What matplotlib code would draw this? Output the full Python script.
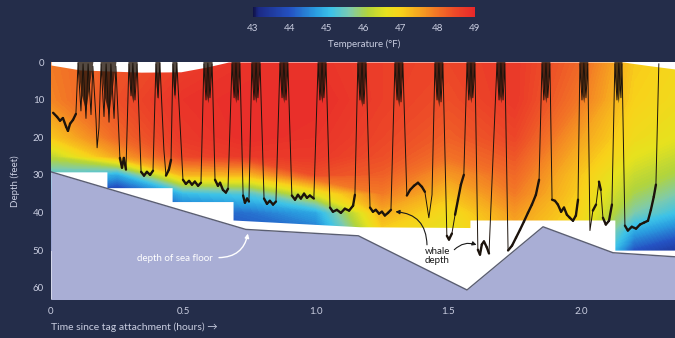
import numpy as np
import matplotlib
matplotlib.use('Agg')
import matplotlib.pyplot as plt
from matplotlib.colors import LinearSegmentedColormap, Normalize
from matplotlib.cm import ScalarMappable
from matplotlib.collections import LineCollection

plt.rcParams['font.family'] = ['Lato', 'DejaVu Sans']

# ---------------- data ----------------
grid_hours = [0, 0.25, 0.5, 0.75, 1.0, 1.25, 1.5, 1.75, 2.0, 2.2, 2.36]
grid_depth = [0, 10, 20, 25, 30, 35, 40, 45, 50]
temp_grid = [  # rows: depth, columns: time
    [47.9, 48.3, 48.6, 48.8, 48.8, 48.6, 48.5, 48.7, 48.1, 47.1, 46.9],
    [47.8, 48.4, 48.8, 48.9, 48.9, 48.6, 48.4, 48.7, 47.9, 47.0, 46.8],
    [47.1, 48.1, 48.7, 48.9, 48.8, 48.5, 48.2, 48.5, 47.5, 46.8, 46.6],
    [46.2, 47.5, 48.5, 48.7, 48.7, 48.4, 48.0, 48.3, 47.3, 46.6, 46.3],
    [45.3, 44.8, 47.3, 47.3, 48.4, 48.2, 47.6, 48.1, 47.1, 46.3, 46.0],
    [44.5, 43.4, 45.0, 45.3, 46.6, 47.9, 47.2, 47.9, 47.0, 46.0, 45.6],
    [44.0, 43.2, 44.0, 44.3, 44.8, 47.4, 46.8, 47.6, 46.9, 45.6, 45.1],
    [43.8, 43.2, 43.6, 44.0, 44.3, 47.0, 46.6, 47.4, 46.8, 44.8, 44.3],
    [43.5, 43.2, 43.5, 44.0, 44.2, 46.8, 46.5, 47.2, 46.7, 44.0, 43.5],
]

# lower limit of temperature measurements (feet)
data_bottom_t = [0, 0.211, 0.211, 0.457, 0.457, 0.687, 0.687, 1.166, 1.581, 1.581, 2.128, 2.128, 2.36]
data_bottom_d = [29.2, 29.2, 33.4, 33.4, 37.1, 37.1, 42.0, 43.8, 44.0, 42.0, 42.0, 50.0, 50.0]
# upper limit of temperature measurements (feet)
data_top_t = [0, 0.11, 0.34, 0.49, 0.59, 0.67, 2.16, 2.25, 2.36]
data_top_d = [0.8, 2.1, 2.7, 2.6, 1.3, 0.0, 0.0, 0.9, 1.9]

# sea floor depth (feet)
floor_t = [0, 0.735, 1.16, 1.570, 1.857, 2.121, 2.36]
floor_d = [29.2, 44.5, 46.2, 60.6, 43.8, 50.7, 51.8]

# whale depth trace
whale_t = [
    0.008, 0.023, 0.034, 0.045, 0.057, 0.064, 0.072, 0.083, 0.094,
    0.102, 0.113, 0.121, 0.132, 0.140, 0.151, 0.158, 0.170, 0.174, 0.181,
    0.189, 0.200, 0.208, 0.219, 0.226, 0.238, 0.245,
    0.260, 0.268, 0.275, 0.283,
    0.294, 0.302, 0.309, 0.317, 0.325,
    0.340, 0.351, 0.362, 0.374, 0.385,
    0.396, 0.404, 0.411,
    0.426, 0.434, 0.445, 0.453,
    0.460, 0.468, 0.475,
    0.498, 0.509, 0.521, 0.532, 0.543, 0.555, 0.566,
    0.577, 0.585, 0.592, 0.600, 0.608,
    0.619, 0.630, 0.638, 0.649, 0.660, 0.668,
    0.683, 0.691, 0.698, 0.706, 0.713,
    0.725, 0.732, 0.740, 0.747,
    0.758, 0.766, 0.774, 0.781, 0.789,
    0.804, 0.815, 0.826, 0.838, 0.849,
    0.864, 0.872, 0.879, 0.887, 0.894,
    0.909, 0.921, 0.932, 0.943, 0.955, 0.966, 0.977, 0.992,
    1.008, 1.015, 1.023, 1.030, 1.038,
    1.053, 1.064, 1.079, 1.094, 1.109, 1.125, 1.140, 1.147,
    1.158, 1.166, 1.174, 1.181, 1.189,
    1.204, 1.215, 1.226, 1.238, 1.249, 1.260, 1.272, 1.283,
    1.298, 1.306, 1.313, 1.321, 1.328,
    1.343, 1.355, 1.370, 1.385, 1.400, 1.411, 1.426, 1.438,
    1.449, 1.457, 1.464, 1.472, 1.479,
    1.494, 1.502, 1.513, 1.525, 1.536, 1.547, 1.558,
    1.570, 1.577, 1.585, 1.592, 1.600,
    1.611, 1.619, 1.626, 1.634, 1.645, 1.653,
    1.683, 1.691, 1.698, 1.706, 1.713,
    1.725, 1.740, 1.755, 1.770, 1.785, 1.800, 1.815, 1.830, 1.842,
    1.853, 1.860, 1.868, 1.875, 1.883,
    1.891, 1.902, 1.913, 1.925, 1.936, 1.947, 1.958, 1.970, 1.981, 1.989,
    1.996, 2.004, 2.011, 2.019, 2.026,
    2.034, 2.045, 2.057, 2.068, 2.075, 2.083, 2.094, 2.106, 2.117,
    2.128, 2.136, 2.143, 2.151, 2.155,
    2.166, 2.177, 2.192, 2.208, 2.223, 2.238, 2.253, 2.264, 2.275, 2.283,
    2.294,
]
whale_d = [
    13.5, 14.6, 15.6, 14.9, 17.2, 18.3, 16.4, 15.4, 13.8,
    0.3, 13.0, 0.5, 15.0, 0.5, 14.0, 1.1, 15.4, 22.8, 17.5,
    0.5, 14.5, 0.5, 16.0, 0.5, 15.0, 1.1,
    25.5, 28.1, 25.5, 28.6,
    0.5, 9.0, 0.3, 10.1, 0.5,
    29.2, 30.2, 29.2, 30.0, 28.9,
    0.5, 9.5, 0.3,
    23.3, 30.2, 28.6, 26.0,
    0.5, 8.8, 0.3,
    31.3, 32.4, 31.6, 32.6, 31.8, 32.9, 32.1,
    0.5, 10.1, 0.3, 9.5, 0.5,
    31.3, 32.9, 32.1, 34.0, 34.7, 33.7,
    0.5, 9.5, 0.3, 10.1, 0.5,
    35.5, 37.4, 36.3, 37.1,
    0.5, 10.1, 0.3, 9.5, 0.5,
    36.3, 37.7, 36.9, 37.9, 37.1,
    0.5, 9.5, 0.3, 10.1, 0.5,
    35.5, 36.6, 35.3, 36.3, 35.0, 36.1, 35.5, 36.3,
    0.5, 10.1, 0.3, 9.5, 0.5,
    38.7, 39.8, 39.3, 40.1, 39.0, 39.5, 38.2, 35.3,
    0.5, 10.1, 0.3, 11.1, 0.5,
    38.7, 39.8, 39.3, 40.3, 39.8, 40.8, 40.1, 39.3,
    0.5, 10.1, 0.3, 10.6, 0.5,
    35.5, 34.0, 32.9, 32.1, 33.2, 34.5, 41.4, 35.3,
    0.5, 10.1, 0.3, 10.6, 0.5,
    46.2, 47.2, 45.6, 40.6, 36.6, 32.6, 30.0,
    0.5, 10.1, 0.3, 9.5, 0.5,
    49.9, 51.2, 48.5, 47.7, 49.3, 50.9,
    0.5, 10.1, 0.3, 10.1, 0.5,
    50.1, 48.8, 46.7, 44.6, 42.4, 40.1, 37.9, 35.3, 31.3,
    0.5, 10.1, 0.3, 9.5, 0.5,
    36.6, 36.9, 37.9, 39.8, 38.7, 40.6, 41.4, 42.2, 40.8, 36.6,
    0.5, 10.1, 0.3, 9.5, 0.5,
    44.8, 39.5, 37.9, 31.8, 34.0, 41.4, 43.2, 42.2, 37.9,
    0.5, 10.1, 0.3, 9.5, 0.5,
    43.5, 44.8, 43.8, 44.3, 43.2, 42.7, 42.2, 39.3, 35.8, 32.6,
    0.5,
]

# surface intervals (dense near-surface activity)
surf_start = [0.100, 0.187, 0.292, 0.394, 0.458, 0.575, 0.681, 0.756, 0.862,
              1.006, 1.156, 1.296, 1.447, 1.568, 1.681, 1.851, 1.994, 2.126]
surf_end = [0.160, 0.247, 0.327, 0.413, 0.477, 0.610, 0.715, 0.791, 0.896,
            1.040, 1.191, 1.330, 1.481, 1.602, 1.715, 1.885, 2.028, 2.157]
surf_depth = [13, 14, 11, 10, 10, 11, 11, 11, 11, 11, 12, 12, 12, 11, 11, 11, 11, 11]

x_ticks = [0, 0.5, 1.0, 1.5, 2.0]
x_ticklabels = ['0', '0.5', '1.0', '1.5', '2.0']
y_ticks = [0, 10, 20, 30, 40, 50, 60]
cbar_ticks = [43, 44, 45, 46, 47, 48, 49]

# ---------------- style ----------------
BG = '#242d4a'
TXT = '#c9cde0'
LAV = '#a9aed5'
TRACE = '#1c130c'

cmap_vals = [43.0, 43.15, 44.0, 44.7, 45.1, 45.6, 46.1, 46.6, 47.0, 47.5, 48.0, 48.5, 49.0]
cmap_cols = ['#10134a', '#1c2a86', '#2452c2', '#2a9ee0', '#3cc2e8', '#7ccab0',
             '#b2d43c', '#e6e21e', '#f8d21a', '#f6a420', '#f27226', '#ec4628', '#e8282a']
norm = Normalize(43, 49)
cmap = LinearSegmentedColormap.from_list(
    'temp', [((v - 43) / 6, c) for v, c in zip(cmap_vals, cmap_cols)])

fig = plt.figure(figsize=(6.75, 3.38), dpi=100, facecolor=BG)
ax = fig.add_axes([51 / 675, 1 - 299 / 338, 624 / 675, 237 / 338])
ax.set_facecolor('white')

ax.contourf(grid_hours, grid_depth, temp_grid, levels=np.linspace(43, 49, 121),
            cmap=cmap, norm=norm, extend='both', zorder=1, antialiased=False)

ax.fill_between(data_bottom_t, data_bottom_d, 70, color='white', lw=0, zorder=2)
ax.fill_between(data_top_t, -2, data_top_d, color='white', lw=0, zorder=2)

# surface wedges
for ts, te, sd in zip(surf_start, surf_end, surf_depth):
    w = te - ts
    poly = [(ts, 0), (te, 0), (te - 0.3 * w, 0.65 * sd), (ts + 0.55 * w, sd),
            (ts + 0.25 * w, 0.65 * sd)]
    ax.add_patch(plt.Polygon(poly, closed=True, facecolor='#24160c', edgecolor='none',
                             alpha=0.78, zorder=4))

wt = np.array(whale_t)
wd = np.array(whale_d)
ax.plot(wt, wd, color=TRACE, lw=0.7, zorder=5, solid_joinstyle='round')
segs = []
for i in range(len(wt) - 1):
    if wd[i] > 12 and wd[i + 1] > 12 and abs(wd[i + 1] - wd[i]) < 5:
        segs.append([(wt[i], wd[i]), (wt[i + 1], wd[i + 1])])
ax.add_collection(LineCollection(segs, colors=TRACE, linewidths=1.7, capstyle='round',
                                 zorder=5))

ax.fill_between(floor_t, floor_d, 70, color=LAV, lw=0, zorder=6)
ax.plot(floor_t, floor_d, color='#5a5e72', lw=1.0, zorder=7)

ax.set_xlim(0, 2.355)
ax.set_ylim(63, 0)
ax.set_xticks(x_ticks)
ax.set_xticklabels(x_ticklabels)
ax.set_yticks(y_ticks)
ax.tick_params(length=0, colors=TXT, labelsize=7)
ax.tick_params(axis='x', pad=6)
ax.tick_params(axis='y', pad=5)
for s in ax.spines.values():
    s.set_visible(False)

fig.text(15 / 675, 1 - 181 / 338, 'Depth (feet)', rotation=90, ha='center', va='center',
         color=TXT, fontsize=7)
fig.text(51 / 675, 1 - 327 / 338, 'Time since tag attachment (hours) \u2192', ha='left',
         va='center', color=TXT, fontsize=7.5)

# annotations
ax.text(0.611, 52.3, 'depth of sea floor', ha='right', va='center', color='white',
        fontsize=7, zorder=8)
ax.annotate('', xy=(0.743, 45.6), xytext=(0.634, 52.0),
            arrowprops=dict(arrowstyle='-|>', color='white', lw=1.0, mutation_scale=6,
                            connectionstyle='arc3,rad=0.4', shrinkA=0, shrinkB=0), zorder=8)
ax.text(1.457, 51.6, 'whale\ndepth', ha='center', va='center', color='#1a1a1a',
        fontsize=7, linespacing=0.95, zorder=8)
ax.annotate('', xy=(1.300, 39.8), xytext=(1.419, 48.6),
            arrowprops=dict(arrowstyle='-|>', color='#1a1a1a', lw=0.8, mutation_scale=6,
                            connectionstyle='arc3,rad=0.45', shrinkA=0, shrinkB=0), zorder=8)
ax.annotate('', xy=(1.606, 48.6), xytext=(1.522, 49.9),
            arrowprops=dict(arrowstyle='-|>', color='#1a1a1a', lw=0.8, mutation_scale=6,
                            connectionstyle='arc3,rad=-0.3', shrinkA=0, shrinkB=0), zorder=8)

# colorbar
cax = fig.add_axes([253 / 675, 1 - 17 / 338, 222 / 675, 10 / 338])
cb = fig.colorbar(ScalarMappable(norm=norm, cmap=cmap), cax=cax, orientation='horizontal')
cb.set_ticks(cbar_ticks)
cb.outline.set_visible(False)
cax.tick_params(length=0, colors=TXT, labelsize=7, pad=5)
cb.set_label('Temperature (\u00b0F)', color=TXT, fontsize=7, labelpad=5)

fig.savefig('out.png', dpi=100, facecolor=BG)
